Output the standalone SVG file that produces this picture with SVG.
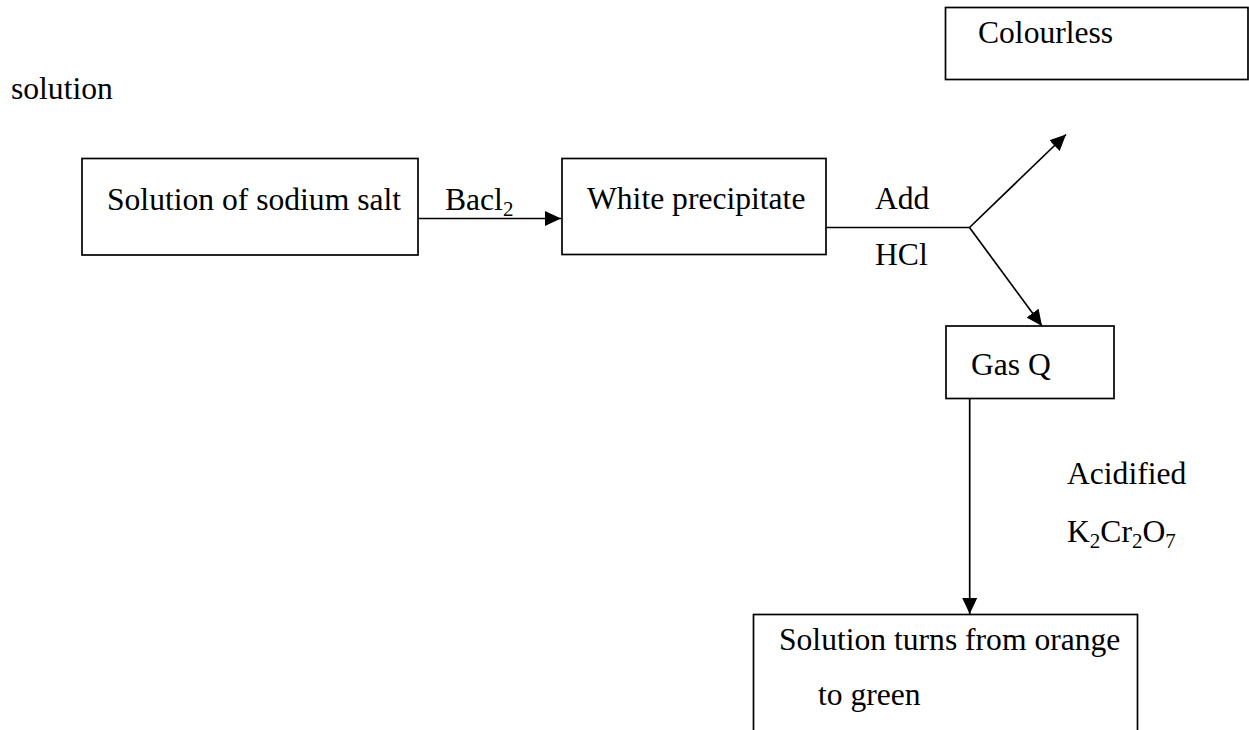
<svg xmlns="http://www.w3.org/2000/svg" width="1249" height="730" viewBox="0 0 1249 730">
<style>
  .box { fill: #fff; stroke: #000; stroke-width: 1.7; }
  .t { font-family: "Liberation Serif", "Times New Roman", serif; font-size: 31.6px; fill: #000; }
  .sub { font-size: 21px; }
  .conn { stroke: #000; stroke-width: 1.7; fill: none; }
  .arr { marker-end: url(#ah); }
</style>
<defs>
  <marker id="ah" markerUnits="userSpaceOnUse" markerWidth="16" markerHeight="16" viewBox="0 0 16 16" refX="16" refY="8" orient="auto">
    <path d="M0,0.5 L16,8 L0,15.5 Z" fill="#000"/>
  </marker>
</defs>
<rect width="1249" height="730" fill="#fff"/>

<text class="t" x="11" y="99">solution</text>

<g id="node-colourless">
  <rect class="box" x="945.5" y="7.5" width="302.5" height="72"/>
  <text class="t" x="978" y="43">Colourless</text>
</g>

<g id="node-sodium-salt">
  <rect class="box" x="82" y="158.5" width="336" height="96.5"/>
  <text class="t" x="107" y="210">Solution of sodium salt</text>
</g>

<g id="node-white-ppt">
  <rect class="box" x="562" y="158.5" width="264" height="96"/>
  <text class="t" x="587" y="209">White precipitate</text>
</g>

<g id="node-gas-q">
  <rect class="box" x="946" y="326" width="168" height="72.5"/>
  <text class="t" x="971" y="375">Gas Q</text>
</g>

<g id="node-result">
  <rect class="box" x="753.5" y="614.5" width="384" height="140"/>
  <text class="t" x="779" y="650">Solution turns from orange</text>
  <text class="t" x="818" y="705">to green</text>
</g>

<g id="connectors">
  <line class="conn arr" x1="418" y1="218.5" x2="561" y2="218.5"/>
  <polyline class="conn" points="826,227.5 969.5,227.5"/>
  <line class="conn arr" x1="969.5" y1="227.5" x2="1066" y2="134.5"/>
  <line class="conn arr" x1="969.5" y1="227.5" x2="1042" y2="326"/>
  <line class="conn arr" x1="969.7" y1="398.5" x2="969.7" y2="614"/>
</g>

<g id="labels">
  <text class="t" x="445" y="210">Bacl<tspan class="sub" dy="6">2</tspan></text>
  <text class="t" x="875" y="209">Add</text>
  <text class="t" x="875" y="265">HCl</text>
  <text class="t" x="1067" y="484">Acidified</text>
  <text class="t" x="1067" y="541.5">K<tspan class="sub" dy="6">2</tspan><tspan dy="-6">Cr</tspan><tspan class="sub" dy="6">2</tspan><tspan dy="-6">O</tspan><tspan class="sub" dy="6">7</tspan></text>
</g>
</svg>
